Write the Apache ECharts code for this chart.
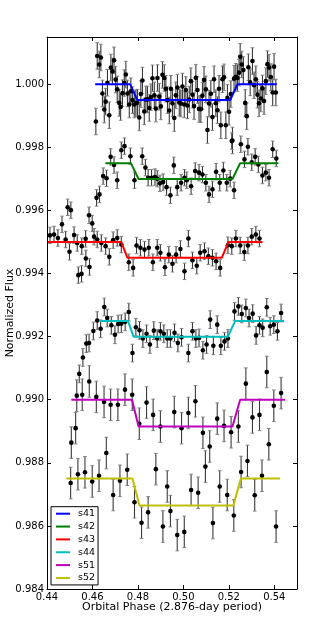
<!DOCTYPE html>
<html><head><meta charset="utf-8">
<script src="https://cdn.jsdelivr.net/npm/echarts@6/dist/echarts.min.js"></script>
<style>html,body{margin:0;padding:0;background:#fff}#c{width:313px;height:627px}</style>
</head><body><div id="c"></div>
<script>
const seriesNames = ['s41','s42','s43','s44','s51','s52'];
const xTicks = [0.44, 0.46, 0.48, 0.50, 0.52, 0.54];
const yTicks = [0.984, 0.986, 0.988, 0.990, 0.992, 0.994, 0.996, 0.998, 1.000];

const s41Phase = [0.4615,0.4621,0.4630,0.4637,0.4644,0.4652,0.4658,0.4666,0.4674,0.4681,0.4688,0.4695,0.4702,0.4709,0.4718,0.4724,0.4732,0.4740,0.4747,0.4754,0.4762,0.4769,0.4776,0.4784,0.4791,0.4798,0.4806,0.4813,0.4820,0.4828,0.4835,0.4842,0.4850,0.4857,0.4864,0.4872,0.4879,0.4886,0.4894,0.4901,0.4908,0.4916,0.4923,0.4930,0.4938,0.4945,0.4952,0.4960,0.4967,0.4974,0.4982,0.4989,0.4996,0.5004,0.5011,0.5018,0.5026,0.5033,0.5040,0.5047,0.5055,0.5062,0.5069,0.5077,0.5084,0.5091,0.5099,0.5106,0.5113,0.5121,0.5128,0.5135,0.5143,0.5150,0.5157,0.5165,0.5172,0.5179,0.5187,0.5194,0.5201,0.5209,0.5216,0.5223,0.5231,0.5238,0.5245,0.5250,0.5257,0.5264,0.5272,0.5279,0.5286,0.5294,0.5304,0.5311,0.5319,0.5326,0.5333,0.5341,0.5348,0.5355,0.5363,0.5370,0.5377,0.5385,0.5393,0.5399,0.5407];
const s41Flux = [0.99882,1.00090,1.00063,1.00085,0.99971,0.99920,0.99945,1.00005,0.99902,1.00053,1.00041,1.00076,1.00015,0.99984,0.99941,0.99928,0.99972,1.00004,1.00031,0.99971,0.99936,0.99978,0.99950,0.99936,0.99940,0.99942,0.99895,0.99969,1.00012,0.99914,0.99952,0.99952,0.99925,0.99959,1.00019,0.99965,0.99923,1.00020,0.99961,0.99930,1.00030,1.00020,0.99986,0.99950,0.99917,0.99986,0.99940,0.99893,0.99965,0.99990,0.99942,0.99939,0.99993,0.99936,0.99982,0.99933,0.99952,1.00010,0.99967,0.99931,1.00021,0.99982,0.99922,0.99921,0.99964,1.00014,0.99984,0.99855,0.99939,0.99970,0.99896,1.00016,0.99940,0.99918,0.99986,0.99870,1.00016,1.00022,0.99870,0.99957,0.99913,0.99969,0.99822,1.00018,1.00024,1.00020,1.00037,1.00087,1.00063,1.00045,0.99941,0.99899,1.00054,1.00006,1.00074,0.99997,1.00016,0.99967,0.99940,0.99955,0.99987,0.99947,1.00010,1.00064,1.00053,1.00023,0.99974,1.00056,0.99974];

const s42Phase = [0.4466,0.4491,0.4505,0.4585,0.4599,0.4618,0.4631,0.4647,0.4662,0.4680,0.4695,0.4709,0.4727,0.4741,0.4767,0.4785,0.4819,0.4833,0.4845,0.4860,0.4875,0.4885,0.4897,0.4911,0.4926,0.4943,0.4958,0.4973,0.4990,0.5005,0.5015,0.5034,0.5052,0.5069,0.5084,0.5099,0.5113,0.5128,0.5144,0.5160,0.5176,0.5191,0.5206,0.5213,0.5223,0.5253,0.5269,0.5284,0.5301,0.5316,0.5330,0.5348,0.5363,0.5377,0.5393,0.5409];
const s42Flux = [0.99556,0.99610,0.99601,0.99585,0.99559,0.99640,0.99651,0.99709,0.99702,0.99770,0.99744,0.99696,0.99791,0.99804,0.99772,0.99696,0.99772,0.99736,0.99704,0.99704,0.99706,0.99701,0.99686,0.99690,0.99674,0.99648,0.99743,0.99674,0.99688,0.99704,0.99696,0.99677,0.99725,0.99720,0.99714,0.99688,0.99651,0.99667,0.99723,0.99688,0.99727,0.99688,0.99701,0.99820,0.99664,0.99810,0.99762,0.99802,0.99753,0.99770,0.99746,0.99711,0.99720,0.99704,0.99794,0.99765];

const s43Phase = [0.4413,0.4431,0.4448,0.4482,0.4499,0.4519,0.4533,0.4538,0.4552,0.4553,0.4570,0.4571,0.4587,0.4607,0.4621,0.4639,0.4658,0.4674,0.4691,0.4709,0.4727,0.4760,0.4779,0.4794,0.4811,0.4829,0.4848,0.4866,0.4885,0.4899,0.4919,0.4936,0.4952,0.4968,0.4987,0.5005,0.5022,0.5040,0.5059,0.5074,0.5093,0.5110,0.5128,0.5144,0.5162,0.5196,0.5213,0.5231,0.5250,0.5268,0.5284,0.5301,0.5319,0.5335];
const s43Flux = [0.99521,0.99524,0.99513,0.99508,0.99469,0.99522,0.99497,0.99395,0.99399,0.99487,0.99510,0.99448,0.99421,0.99517,0.99508,0.99497,0.99487,0.99453,0.99506,0.99513,0.99492,0.99436,0.99418,0.99489,0.99482,0.99476,0.99482,0.99436,0.99482,0.99466,0.99420,0.99460,0.99431,0.99460,0.99478,0.99407,0.99511,0.99442,0.99425,0.99466,0.99471,0.99455,0.99450,0.99439,0.99418,0.99490,0.99487,0.99511,0.99489,0.99468,0.99489,0.99517,0.99524,0.99511];

const s44Phase = [0.4542,0.4558,0.4573,0.4585,0.4604,0.4621,0.4636,0.4652,0.4665,0.4683,0.4699,0.4713,0.4727,0.4744,0.4760,0.4776,0.4791,0.4807,0.4822,0.4838,0.4853,0.4870,0.4885,0.4899,0.4914,0.4929,0.4943,0.4961,0.4976,0.4992,0.5022,0.5040,0.5055,0.5069,0.5086,0.5102,0.5118,0.5132,0.5149,0.5165,0.5181,0.5196,0.5225,0.5242,0.5257,0.5275,0.5289,0.5305,0.5320,0.5335,0.5349,0.5367,0.5382,0.5398,0.5414,0.5430];
const s44Flux = [0.99082,0.99134,0.99178,0.99180,0.99218,0.99251,0.99225,0.99294,0.99259,0.99236,0.99206,0.99240,0.99241,0.99247,0.99278,0.99148,0.99230,0.99220,0.99194,0.99209,0.99175,0.99219,0.99194,0.99217,0.99209,0.99194,0.99194,0.99212,0.99180,0.99198,0.99148,0.99217,0.99194,0.99196,0.99157,0.99175,0.99254,0.99171,0.99238,0.99171,0.99185,0.99194,0.99280,0.99296,0.99272,0.99291,0.99259,0.99273,0.99204,0.99236,0.99228,0.99293,0.99233,0.99238,0.99217,0.99275];

const s51Phase = [0.4507,0.4526,0.4531,0.4555,0.4586,0.4617,0.4651,0.4680,0.4712,0.4743,0.4775,0.4806,0.4838,0.4867,0.4899,0.4960,0.4992,0.5022,0.5053,0.5086,0.5116,0.5149,0.5179,0.5210,0.5242,0.5275,0.5304,0.5335,0.5367,0.5398,0.5430];
const s51Flux = [0.98864,0.98910,0.99013,0.99016,0.99058,0.99009,0.98993,0.98984,0.98984,0.99032,0.99016,0.98924,0.98991,0.98952,0.98915,0.98961,0.98910,0.98958,0.98995,0.98895,0.98852,0.98940,0.98917,0.98897,0.98915,0.99051,0.98944,0.98952,0.99088,0.98981,0.99021];

const s52Phase = [0.4504,0.4536,0.4567,0.4599,0.4629,0.4661,0.4691,0.4721,0.4753,0.4785,0.4816,0.4845,0.4879,0.4910,0.4929,0.4943,0.4973,0.5004,0.5034,0.5065,0.5097,0.5130,0.5160,0.5193,0.5222,0.5254,0.5282,0.5314,0.5346,0.5376,0.5408];
const s52Flux = [0.98736,0.98764,0.98770,0.98741,0.98759,0.98831,0.98698,0.98743,0.98778,0.98675,0.98610,0.98643,0.98780,0.98598,0.98725,0.98647,0.98571,0.98581,0.98714,0.98705,0.98788,0.98609,0.98725,0.98698,0.98633,0.98771,0.98806,0.98697,0.98759,0.98859,0.98598];

// half-length of error bars per series
const errSizes = [0.00042, 0.00026, 0.00026, 0.00028, 0.00050, 0.00050];

// transit model curves
const s41ModelPhase = [0.4612, 0.4766, 0.4798, 0.5206, 0.5238, 0.5411];
const s41ModelFlux  = [1.0000, 1.0000, 0.9995, 0.9995, 1.0000, 1.0000];
const s42ModelPhase = [0.4657, 0.4769, 0.4803, 0.5216, 0.5250, 0.5418];
const s42ModelFlux  = [0.9975, 0.9975, 0.9970, 0.9970, 0.9975, 0.9975];
const s43ModelPhase = [0.4404, 0.4727, 0.4754, 0.5169, 0.5198, 0.5348];
const s43ModelFlux  = [0.9950, 0.9950, 0.9945, 0.9945, 0.9950, 0.9950];
const s44ModelPhase = [0.4630, 0.4756, 0.4781, 0.5196, 0.5228, 0.5443];
const s44ModelFlux  = [0.9925, 0.9925, 0.9920, 0.9920, 0.9925, 0.9925];
const s51ModelPhase = [0.4507, 0.4774, 0.4803, 0.5216, 0.5250, 0.5447];
const s51ModelFlux  = [0.9900, 0.9900, 0.98915, 0.98915, 0.9900, 0.9900];
const s52ModelPhase = [0.4485, 0.4776, 0.4807, 0.5220, 0.5253, 0.5425];
const s52ModelFlux  = [0.98750, 0.98750, 0.98665, 0.98665, 0.98750, 0.98750];

const pointsPhase = [s41Phase, s42Phase, s43Phase, s44Phase, s51Phase, s52Phase];
const pointsFlux = [s41Flux, s42Flux, s43Flux, s44Flux, s51Flux, s52Flux];
const modelPhase = [s41ModelPhase, s42ModelPhase, s43ModelPhase, s44ModelPhase, s51ModelPhase, s52ModelPhase];
const modelFlux = [s41ModelFlux, s42ModelFlux, s43ModelFlux, s44ModelFlux, s51ModelFlux, s52ModelFlux];

const modelColors = ['#0000ff', '#008000', '#ff0000', '#00bfbf', '#bf00bf', '#bfbf00'];
const FONT = 'DejaVu Sans';

function zip(xs, ys) { const n = Math.min(xs.length, ys.length); const out = []; for (let i = 0; i < n; i++) out.push([xs[i], ys[i]]); return out; }

const series = [];
seriesNames.forEach((name, k) => {
  const pts = zip(pointsPhase[k], pointsFlux[k]);
  const e = errSizes[k];
  series.push({
    type: 'custom', name: name + ' err', silent: true, z: 2,
    data: pts.map(p => [p[0], p[1] - e, p[1] + e]),
    encode: { x: 0, y: [1, 2] },
    renderItem: (params, api) => {
      const x = api.value(0);
      const p1 = api.coord([x, api.value(1)]);
      const p2 = api.coord([x, api.value(2)]);
      const w = 1.8;
      return { type: 'group', children: [
        { type: 'line', shape: { x1: p1[0], y1: p1[1], x2: p2[0], y2: p2[1] }, style: { stroke: '#3a3a3a', lineWidth: 1.1 } },
        { type: 'line', shape: { x1: p1[0] - w, y1: p1[1], x2: p1[0] + w, y2: p1[1] }, style: { stroke: '#808080', lineWidth: 1 } },
        { type: 'line', shape: { x1: p2[0] - w, y1: p2[1], x2: p2[0] + w, y2: p2[1] }, style: { stroke: '#808080', lineWidth: 1 } }
      ]};
    }
  });
  series.push({
    type: 'scatter', name: name + ' data', silent: true, z: 3,
    symbol: 'circle', symbolSize: 4.6,
    itemStyle: { color: '#000', opacity: 1 },
    data: pts
  });
});
seriesNames.forEach((name, k) => {
  series.push({
    type: 'line', name: name, silent: true, z: 4,
    showSymbol: false, symbol: 'none',
    lineStyle: { color: modelColors[k], width: 2 },
    itemStyle: { color: modelColors[k] },
    data: zip(modelPhase[k], modelFlux[k])
  });
});

const axisCommon = {
  type: 'value',
  axisLine: { show: true, lineStyle: { color: '#000', width: 1 } },
  axisTick: { show: true, inside: true, length: 4, lineStyle: { color: '#000', width: 1 } },
  splitLine: { show: false }
};

const option = {
  backgroundColor: '#fff',
  animation: false,
  grid: { left: 47, right: 16, top: 37, bottom: 38, containLabel: false, outerBoundsMode: 'none' },
  legend: {
    orient: 'vertical', left: 51, top: 506.7, z: 10,
    data: seriesNames.map(n => ({ name: n, icon: 'rect' })),
    itemWidth: 14, itemHeight: 2, itemGap: 1.85,
    padding: [1.5, 3, 1.5, 5],
    borderColor: '#000', borderWidth: 1, backgroundColor: '#fff',
    selectedMode: false,
    textStyle: { fontFamily: FONT, fontSize: 9.5, color: '#000', lineHeight: 11, padding: [0, 0, 0, 3] }
  },
  xAxis: [
    Object.assign({}, axisCommon, {
      min: xTicks[0], max: 0.55, interval: 0.02, position: 'bottom',
      name: 'Orbital Phase (2.876-day period)', nameLocation: 'middle', nameGap: 13, nameMoveOverlap: false,
      nameTextStyle: { fontFamily: FONT, fontSize: 11, color: '#000' },
      axisLabel: { show: true, margin: 3, fontFamily: FONT, fontSize: 10, color: '#000', showMaxLabel: false,
        formatter: v => v.toFixed(2) }
    }),
    Object.assign({}, axisCommon, {
      min: xTicks[0], max: 0.55, interval: 0.02, position: 'top',
      axisLabel: { show: false }
    })
  ],
  yAxis: [
    Object.assign({}, axisCommon, {
      min: yTicks[0], max: 1.0015, interval: 0.002, position: 'left',
      name: 'Normalized Flux', nameLocation: 'middle', nameGap: 31, nameMoveOverlap: false,
      nameTextStyle: { fontFamily: FONT, fontSize: 11, color: '#000' },
      axisLabel: { show: true, margin: 3, fontFamily: FONT, fontSize: 10, color: '#000', showMaxLabel: false,
        hideOverlap: false, formatter: v => v.toFixed(3) }
    }),
    Object.assign({}, axisCommon, {
      min: yTicks[0], max: 1.0015, interval: 0.002, position: 'right',
      axisLabel: { show: false }
    })
  ],
  series: series
};

const chart = echarts.init(document.getElementById('c'), null, { renderer: 'canvas' });
chart.setOption(option);
</script>
</body></html>
